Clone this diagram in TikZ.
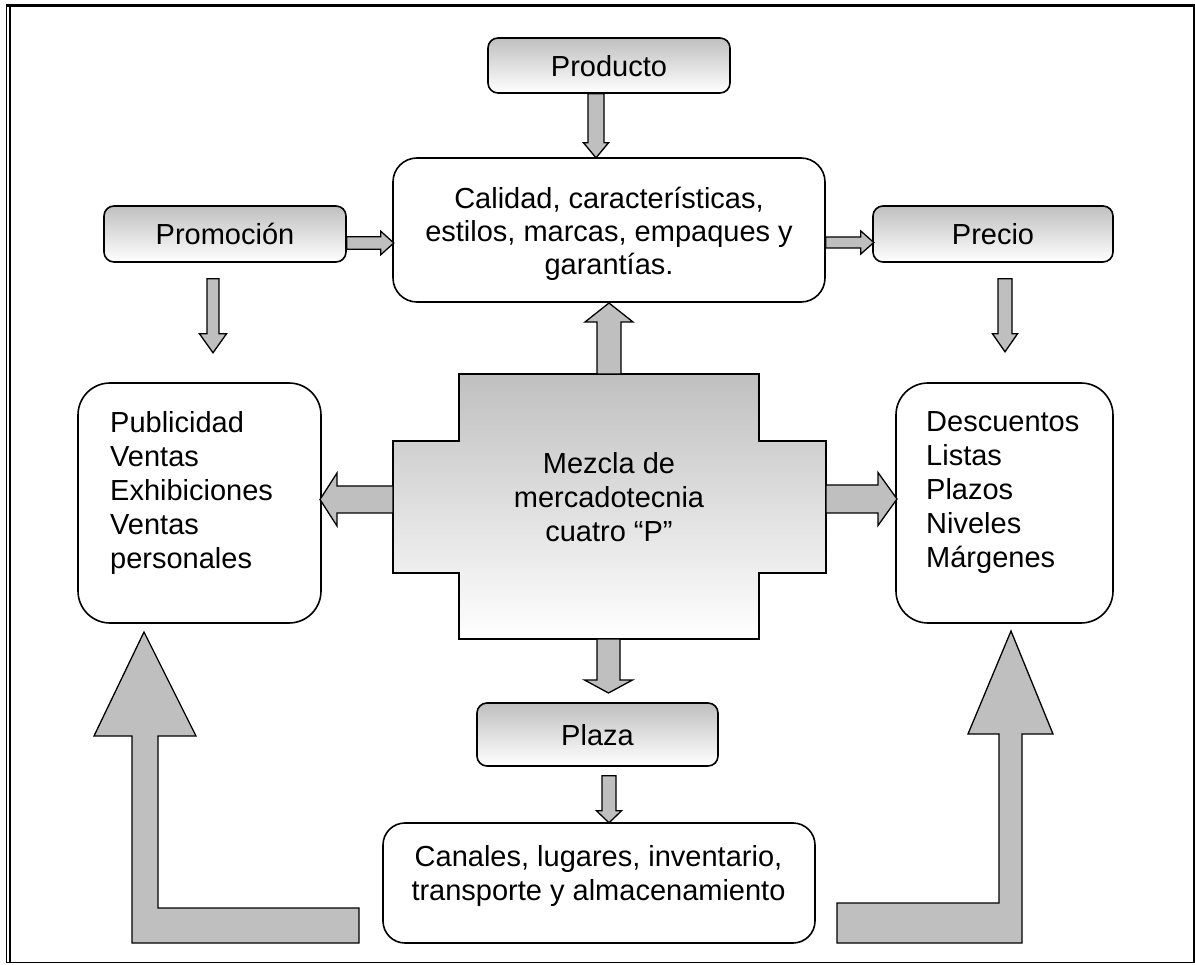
\documentclass[tikz,border=0pt]{standalone}
\usepackage{fontspec}
\setmainfont{Liberation Sans}
\tikzset{
  every node/.style={font=\fontsize{29}{34}\selectfont, inner sep=0pt},
  box/.style={draw, line width=1.6pt, rounded corners=#1},
  box/.default=10pt,
  headbox/.style={box=10pt, top color=black!25, bottom color=white,
                  text height=22pt, text depth=0pt},
  plainbox/.style={box=#1, fill=white},
  arrowfill/.style={draw, line width=1.3pt, fill=black!25, line join=miter},
  % block arrow pointing along +x: length, shaft width, head width, head length
  pics/barrow/.style n args={4}{code={
    \path[arrowfill] (0,-#2/2) -- (#1-#4,-#2/2) -- (#1-#4,-#3/2) -- (#1,0)
      -- (#1-#4,#3/2) -- (#1-#4,#2/2) -- (0,#2/2) -- cycle;}},
}
\begin{document}
\begin{tikzpicture}[x=1pt,y=-1pt]
\useasboundingbox (0,0) rectangle (1195,965);

% page frame
\draw[line width=3pt] (6,5.8) -- (1195,5.8);
\draw[line width=1pt] (6.5,4.3) -- (6.5,963);
\draw[line width=2pt] (10,4.3) -- (10,963);
\draw[line width=2pt] (1193.5,4.3) -- (1193.5,963);
\draw[line width=1.2pt] (6,962.4) -- (1195,962.4);

% boxes
\node[headbox, minimum width=242pt, minimum height=55pt] (prod) at (609,65.5) {Producto};
\node[plainbox=24pt, minimum width=432pt, minimum height=144pt] (cal) at (609,230) {};
\node[align=center, font=\fontsize{29}{33}\selectfont] (caltxt) at (609,234)
  {Calidad, características,\\estilos, marcas, empaques y\\garantías.};
\node[headbox, minimum width=242pt, minimum height=56pt] (prom) at (225,234) {Promoción};
\node[headbox, minimum width=240pt, minimum height=56pt] (prec) at (993,234) {Precio};
\node[plainbox=32pt, minimum width=243pt, minimum height=240pt] (pub) at (199.5,503) {};
\node[anchor=north west, align=left] (pubtxt) at (110,411)
  {Publicidad\\Ventas\\Exhibiciones\\Ventas\\personales};
\node[plainbox=32pt, minimum width=217pt, minimum height=240pt] (desc) at (1004.5,503) {};
\node[anchor=north west, align=left] (desctxt) at (926,411)
  {Descuentos\\Listas\\Plazos\\Niveles\\Márgenes};
\node[headbox, minimum width=241pt, minimum height=63pt] (plaza) at (597.5,734.5) {Plaza};
\node[plainbox=22pt, minimum width=432pt, minimum height=120pt] (canal) at (599,883) {};
\node[align=center] (canaltxt) at (598.5,876)
  {Canales, lugares, inventario,\\transporte y almacenamiento};

% central cross
\shade[top color=black!25, bottom color=white, draw, line width=1.4pt]
  (459,374) -- (759,374) -- (759,441) -- (826,441) -- (826,573) -- (759,573)
  -- (759,639) -- (459,639) -- (459,573) -- (393,573) -- (393,441) -- (459,441) -- cycle;
\node[align=center] (mix) at (609,497.5) {Mezcla de\\mercadotecnia\\cuatro “P”};
\coordinate (mixN) at (609,374);
\coordinate (mixS) at (608.5,639);
\coordinate (mixW) at (393,499.5);
\coordinate (mixE) at (826,499);

% block arrows
\pic[rotate=-90] at ([xshift=-13pt]prod.south) {barrow={64}{16}{25}{15}};
\pic at ([yshift=-9pt]prom.east) {barrow={47}{12.5}{23.5}{13}};
\pic[rotate=-90] at ([xshift=-12pt,yshift=-16pt]prom.south) {barrow={74}{12}{27}{19}};
\pic at ([yshift=-12.5pt]cal.east) {barrow={48}{11}{23}{13}};
\pic[rotate=-90] at ([xshift=12pt,yshift=-16pt]prec.south) {barrow={73}{14}{25}{18}};
\pic[rotate=90] at (mixN) {barrow={71}{24}{48}{19}};
\pic[rotate=180] at (mixW) {barrow={73}{27}{53}{17}};
\pic at (mixE) {barrow={71}{28}{53}{19}};
\pic[rotate=-90] at (mixS) {barrow={54}{23}{48}{13}};
\pic[rotate=-90] at ([xshift=11.5pt,yshift=-9pt]plaza.south) {barrow={47}{14}{25}{12}};

% large bent arrows
\path[arrowfill] (144,632) -- (196,736) -- (158,736) -- (158,908) -- (359,908)
  -- (359,943) -- (132,943) -- (132,736) -- (94,736) -- cycle;
\path[arrowfill] (1011,631) -- (1053,734) -- (1022,734) -- (1022,943) -- (837,943)
  -- (837,903) -- (999,903) -- (999,734) -- (968,734) -- cycle;
\end{tikzpicture}
\end{document}
